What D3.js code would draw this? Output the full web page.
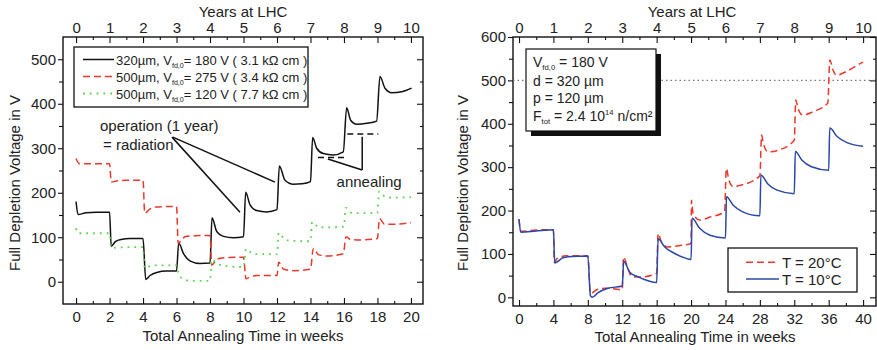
<!DOCTYPE html>
<html>
<head>
<meta charset="utf-8">
<script src="https://cdn.jsdelivr.net/npm/d3@7"></script>
<style>
  body { margin: 0; background: #fff; }
  svg { display: block; font-family: "Liberation Sans", Arial, sans-serif; }
</style>
</head>
<body>
<div id="chart"></div>
<script>
// Left panel: [annealing weeks, V_fd in V]
const d320_180 = [
  [0,180],[0.12,151],[0.6,155],[1.2,156],[2,156],
  [2.1,80],[2.35,90],[2.7,95],[3.2,97],[4,97],
  [4.16,5],[4.42,14],[4.82,21],[5.4,24],[6,24],
  [6.13,87],[6.41,64],[6.8,47],[7.4,41],[8,42],
  [8.12,144],[8.4,113],[8.8,102],[9.4,99],[10,101],
  [10.13,201],[10.39,173],[10.79,160],[11.38,157],[12,162],
  [12.14,260],[12.48,228],[12.98,219],[13.5,220],[14,225],
  [14.13,324],[14.37,300],[14.77,288],[15.36,285],[15.96,292],
  [16.16,391],[16.4,363],[16.76,354],[17.36,356],[17.95,361],
  [18.15,461],[18.45,435],[18.85,425],[19.45,427],[20.04,435]
];
const d500_275 = [
  [0,277],[0.2,265],[1,265],[2,265],
  [2.1,224],[2.5,227],[3,228],[4,228],
  [4.1,154],[4.4,163],[4.7,168],[5.5,169],[6,169],
  [6.1,86],[6.35,97],[6.6,102],[7.5,104],[8,104],
  [8.1,37],[8.35,48],[8.6,53],[9.5,55],[10,55],
  [10.15,7],[10.5,12],[10.8,14],[11.5,14],[12,14],
  [12.1,44],[12.4,28],[13,25],[14,28],
  [14.17,75],[14.47,61],[14.97,58],[15.96,63],
  [16.12,101],[16.4,95],[17,94],[18,97],
  [18.12,142],[18.4,130],[19,129],[20,133]
];
const d500_120 = [
  [0,120],[0.12,109],[1,109],[2,109],
  [2.1,76],[2.6,77],[4,78],
  [4.1,30],[4.5,36],[5,37],[6,37],
  [6.15,14],[6.5,5],[6.8,2],[8,2],
  [8.1,50],[8.4,41],[9,35],[10,33],
  [10.15,74],[10.6,62],[11,62],[12,62],
  [12.1,110],[12.5,94],[13,92],[14,91],
  [14.1,134],[14.5,122],[15,122],[16,124],
  [16.1,166],[16.5,154],[17,154],[18,155],
  [18.1,203],[18.5,190],[19,189],[20,190]
];

// Right panel: [annealing weeks, V_fd in V]
const t20 = [
  [0,180],[0.2,152],[2,155],[4,156],
  [4.1,80],[4.4,89],[5.5,96],[8,96],
  [8.3,9],[9,17],[10,21],[11,20],[12,17],
  [12.15,93],[12.6,70],[13.1,48],[14.2,47],[16,55],
  [16.17,147],[16.55,128],[17.3,116],[18.9,120],[20,124],
  [20.05,224],[20.23,193],[21,178],[22.2,185],[23.9,197],
  [24.1,297],[24.4,270],[24.9,255],[25.7,258],[28,280],
  [28.2,374],[28.4,355],[28.95,335],[30.1,339],[32,362],
  [32.17,455],[32.44,435],[33,420],[34.2,428],[35.9,448],
  [36.13,547],[36.5,524],[36.9,512],[38,520],[39.6,538],[40,542]
];
const t10 = [
  [0,180],[0.2,150],[2,153],[4,156],
  [4.15,79],[5.1,91],[6.1,94],[8,95],
  [8.3,4],[8.5,0],[9.2,11],[10.35,21],[12,26],
  [12.17,83],[12.87,58],[13.84,47],[15,38],[16,34],
  [16.17,135],[16.94,116],[18.1,101],[19.27,91],[20,87],
  [20.12,182],[21,159],[22.2,143],[24,137],
  [24.12,232],[24.9,212],[26,197],[28,188],
  [28.12,282],[28.9,262],[30,247],[32,239],
  [32.12,336],[32.9,316],[34,301],[36,293],
  [36.12,390],[37,370],[38.2,356],[40,348]
];

// Ticks
const years = d3.range(0, 11);
const halfYears = d3.range(0.5, 10, 1);
const leftWeeks = d3.range(0, 21, 2);
const leftWeeksMinor = d3.range(1, 20, 2);
const rightWeeks = d3.range(0, 41, 4);
const rightWeeksMinor = d3.range(2, 40, 4);
const leftVolts = [0, 100, 200, 300, 400, 500];
const leftVoltsMinor = [50, 150, 250, 350, 450];
const rightVolts = [0, 100, 200, 300, 400, 500, 600];
const rightVoltsMinor = [50, 150, 250, 350, 450, 550];

const red = "#e8392b", green = "#5cd44f", blue = "#2a47a8";

const svg = d3.select("#chart").append("svg")
  .attr("width", 877)
  .attr("height", 350);

const xL = d3.scaleLinear().domain([-0.78, 20.72]).range([63, 423]);
const yL = d3.scaleLinear().domain([-50, 550]).range([304, 37]);
const xR = d3.scaleLinear().domain([-0.7, 41.5]).range([513, 876]);
const yR = d3.scaleLinear().domain([-20, 600]).range([306, 37]);

function drawAxes(x, y, perYear, wk, wkMinor, volts, voltsMinor) {
  const g = svg.append("g");
  const [x0, x1] = x.range(), [y0, y1] = y.range();
  const yr = d3.scaleLinear().domain(x.domain().map(d => d / perYear)).range(x.range());

  const add = (axis, tx, ty) => g.append("g").attr("transform", `translate(${tx},${ty})`).call(axis);

  // bottom: weeks
  add(d3.axisBottom(x).tickValues(wkMinor).tickSize(-3).tickFormat(""), 0, y0);
  add(d3.axisBottom(x).tickValues(wk).tickSize(-6).tickPadding(7), 0, y0);
  // top: years
  add(d3.axisTop(yr).tickValues(halfYears).tickSize(-3).tickFormat(""), 0, y1);
  add(d3.axisTop(yr).tickValues(years).tickSize(-6).tickPadding(4), 0, y1);
  // left
  add(d3.axisLeft(y).tickValues(voltsMinor).tickSize(4).tickFormat(""), x0, 0);
  add(d3.axisLeft(y).tickValues(volts).tickSize(5).tickPadding(2), x0, 0);
  // right
  add(d3.axisRight(y).tickValues(voltsMinor).tickSize(-3).tickFormat(""), x1, 0);
  add(d3.axisRight(y).tickValues(volts).tickSize(-6).tickFormat(""), x1, 0);

  g.selectAll(".domain").remove();
  g.selectAll("g").attr("font-family", null).attr("font-size", null);
  g.selectAll("text").style("font-size", "15px").attr("fill", "#222");
  g.selectAll("line").attr("stroke", "#111").attr("stroke-width", 1.1);

  g.append("rect")
    .attr("x", x0).attr("y", y1)
    .attr("width", x1 - x0).attr("height", y0 - y1)
    .attr("fill", "none").attr("stroke", "#111").attr("stroke-width", 1.4);
}

// text with _sub and ^sup parts
function richText(g, x, y, parts, size) {
  const t = g.append("text").attr("x", x).attr("y", y)
    .style("font-size", size + "px").attr("fill", "#222");
  let shift = 0;
  parts.forEach(p => {
    let off = 0, fs = size, s = p;
    if (p[0] === "_") { off = 3; fs = size * 0.55; s = p.slice(1); }
    if (p[0] === "^") { off = -6; fs = size * 0.55; s = p.slice(1); }
    t.append("tspan").attr("dy", off - shift).style("font-size", fs + "px").text(s);
    shift = off;
  });
  return t;
}

function title(txt, x, y, rot) {
  svg.append("text")
    .attr("transform", `translate(${x},${y})` + (rot ? " rotate(-90)" : ""))
    .attr("text-anchor", "middle")
    .style("font-size", "15px")
    .attr("fill", "#222")
    .text(txt);
}

// ---------- Left panel ----------
drawAxes(xL, yL, 2, leftWeeks, leftWeeksMinor, leftVolts, leftVoltsMinor);

const lineL = d3.line().x(d => xL(d[0])).y(d => yL(d[1])).curve(d3.curveMonotoneX);

svg.append("path").datum(d320_180)
  .attr("fill", "none").attr("stroke", "#111").attr("stroke-width", 1.5)
  .attr("d", lineL);
svg.append("path").datum(d500_275)
  .attr("fill", "none").attr("stroke", red).attr("stroke-width", 1.5)
  .attr("stroke-dasharray", "7,4")
  .attr("d", lineL);
svg.append("path").datum(d500_120)
  .attr("fill", "none").attr("stroke", green).attr("stroke-width", 1.8)
  .attr("stroke-dasharray", "1.8,5")
  .attr("d", lineL);

// annotations (data coords)
const ann = svg.append("g").attr("stroke", "#111").attr("stroke-width", 1.5).attr("fill", "none");
const seg = (a, b, dash) => ann.append("line")
  .attr("x1", xL(a[0])).attr("y1", yL(a[1]))
  .attr("x2", xL(b[0])).attr("y2", yL(b[1]))
  .attr("stroke-dasharray", dash || null);
seg([5.78, 325], [11.88, 224]);
seg([5.73, 325], [9.79, 156]);
seg([14.45, 279], [16.24, 279], "6,4");
seg([16.2, 332], [18.05, 332], "6,4");
seg([15.04, 276], [17.09, 251]);
seg([17.09, 251], [17.09, 326]);

const annText = (txt, w, v) => svg.append("text")
  .attr("x", xL(w)).attr("y", yL(v))
  .style("font-size", "15px").attr("fill", "#222").text(txt);
annText("operation (1 year)", 1.43, 338);
annText("= radiation", 1.61, 295);
annText("annealing", 15.56, 213);

// legend
const legL = svg.append("g");
legL.append("rect").attr("x", 74).attr("y", 47).attr("width", 234).attr("height", 60)
  .attr("fill", "#fff").attr("stroke", "#111").attr("stroke-width", 1.3);
const legItems = [
  { color: "#111", dash: null, w: 1.5, parts: ["320µm, V", "_fd,0", "= 180 V ( 3.1 kΩ cm )"] },
  { color: red, dash: "7,4", w: 1.5, parts: ["500µm, V", "_fd,0", "= 275 V ( 3.4 kΩ cm )"] },
  { color: green, dash: "1.8,5", w: 1.8, parts: ["500µm, V", "_fd,0", "= 120 V ( 7.7 kΩ cm )"] }
];
legItems.forEach((it, i) => {
  const cy = 59.5 + i * 17;
  legL.append("line").attr("x1", 83).attr("x2", 114).attr("y1", cy).attr("y2", cy)
    .attr("stroke", it.color).attr("stroke-width", it.w).attr("stroke-dasharray", it.dash);
  richText(legL, 116, cy + 5, it.parts, 13);
});

title("Years at LHC", 243, 17);
title("Total Annealing Time in weeks", 243, 341);
title("Full Depletion Voltage in V", 19.5, 183, true);

// ---------- Right panel ----------
drawAxes(xR, yR, 4, rightWeeks, rightWeeksMinor, rightVolts, rightVoltsMinor);

// 500 V reference
svg.append("line")
  .attr("x1", xR.range()[0]).attr("x2", xR.range()[1])
  .attr("y1", yR(500)).attr("y2", yR(500))
  .attr("stroke", "#777").attr("stroke-width", 1.3).attr("stroke-dasharray", "1.5,3");

const lineR = d3.line().x(d => xR(d[0])).y(d => yR(d[1])).curve(d3.curveMonotoneX);

svg.append("path").datum(t20)
  .attr("fill", "none").attr("stroke", red).attr("stroke-width", 1.5)
  .attr("stroke-dasharray", "7,4")
  .attr("d", lineR);
svg.append("path").datum(t10)
  .attr("fill", "none").attr("stroke", blue).attr("stroke-width", 1.5)
  .attr("d", lineR);

// parameter box with shadow
const box = svg.append("g");
box.append("rect").attr("x", 531).attr("y", 54).attr("width", 130).attr("height", 82).attr("fill", "#111");
box.append("rect").attr("x", 526).attr("y", 49).attr("width", 130).attr("height", 82)
  .attr("fill", "#fff").attr("stroke", "#111").attr("stroke-width", 1.2);
richText(box, 533, 66.5, ["V", "_fd,0", " = 180 V"], 14);
richText(box, 533, 85.5, ["d = 320 µm"], 14);
richText(box, 533, 103, ["p = 120 µm"], 14);
richText(box, 533, 120.5, ["F", "_tot", " = 2.4 10", "^14", " n/cm²"], 14);

// legend
const legR = svg.append("g");
legR.append("rect").attr("x", 728).attr("y", 248).attr("width", 129).attr("height", 44)
  .attr("fill", "#fff").attr("stroke", "#111").attr("stroke-width", 1.3);
[
  { color: red, dash: "7,4", label: "T = 20°C" },
  { color: blue, dash: null, label: "T = 10°C" }
].forEach((it, i) => {
  const cy = 262.3 + i * 16.7;
  legR.append("line").attr("x1", 746).attr("x2", 779).attr("y1", cy).attr("y2", cy)
    .attr("stroke", it.color).attr("stroke-width", 1.5).attr("stroke-dasharray", it.dash);
  legR.append("text").attr("x", 782).attr("y", cy + 5.5)
    .style("font-size", "15px").attr("fill", "#222").text(it.label);
});

title("Years at LHC", 692, 17);
title("Total Annealing Time in weeks", 695, 341.5);
title("Full Depletion Voltage in V", 468, 183, true);
</script>
</body>
</html>
